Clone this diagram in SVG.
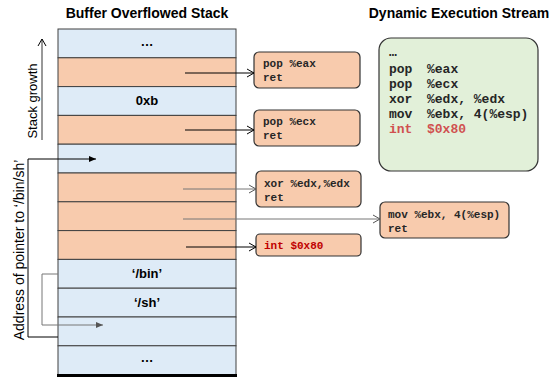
<svg xmlns="http://www.w3.org/2000/svg" width="549" height="381" viewBox="0 0 549 381">
<defs>
<style>
.title{font-family:"Liberation Sans",Arial,sans-serif;font-weight:bold;font-size:14px;fill:#000;text-anchor:middle}
.side{font-family:"Liberation Sans",Arial,sans-serif;font-size:13px;fill:#000;text-anchor:middle}
.cell{font-family:"Liberation Sans",Arial,sans-serif;font-weight:bold;font-size:13px;fill:#000;text-anchor:middle}
.blue{fill:#DEEBF7;stroke:#404040;stroke-width:1}
.orange{fill:#F8CBAD;stroke:#404040;stroke-width:1}
.gadget{fill:#F8CBAD;stroke:#333;stroke-width:1.2}
.code{font-family:"Liberation Mono","Courier New",monospace;font-weight:bold;font-size:11px;fill:#262626}
.code2{font-family:"Liberation Mono","Courier New",monospace;font-weight:bold;font-size:13px;fill:#262626}
.red{fill:#C00000}
.lred{fill:#D05050}
.conn{fill:none;stroke:#000;stroke-width:1}
.gconn{fill:none;stroke:#777;stroke-width:1}
</style>
<marker id="open" markerUnits="userSpaceOnUse" markerWidth="10" markerHeight="10" refX="8" refY="5" orient="auto">
<path d="M1,1 L8,5 L1,9" fill="none" stroke="#000" stroke-width="1"/>
</marker>
<marker id="openg" markerUnits="userSpaceOnUse" markerWidth="10" markerHeight="10" refX="8" refY="5" orient="auto">
<path d="M1,1 L8,5 L1,9" fill="none" stroke="#555" stroke-width="1"/>
</marker>
<marker id="fill" markerUnits="userSpaceOnUse" markerWidth="8" markerHeight="8" refX="7" refY="4" orient="auto">
<path d="M0,1 L7,4 L0,7 Z" fill="#000"/>
</marker>
<marker id="fillg" markerUnits="userSpaceOnUse" markerWidth="8" markerHeight="8" refX="7" refY="4" orient="auto">
<path d="M0,1 L7,4 L0,7 Z" fill="#555"/>
</marker>
</defs>
<rect width="549" height="381" fill="#fff"/>

<text class="title" x="147" y="17.5">Buffer Overflowed Stack</text>
<text class="title" x="459" y="17.5">Dynamic Execution Stream</text>

<g id="stack">
<rect class="blue" x="58" y="29" width="178" height="28.8"/>
<rect class="orange" x="58" y="57.8" width="178" height="28.8"/>
<rect class="blue" x="58" y="86.6" width="178" height="28.8"/>
<rect class="orange" x="58" y="115.4" width="178" height="28.8"/>
<rect class="blue" x="58" y="144.2" width="178" height="28.8"/>
<rect class="orange" x="58" y="173" width="178" height="28.8"/>
<rect class="orange" x="58" y="201.8" width="178" height="28.8"/>
<rect class="orange" x="58" y="230.6" width="178" height="28.8"/>
<rect class="blue" x="58" y="259.4" width="178" height="28.8"/>
<rect class="blue" x="58" y="288.2" width="178" height="28.8"/>
<rect class="blue" x="58" y="317" width="178" height="28.8"/>
<rect class="blue" x="58" y="345.8" width="178" height="28.8"/>
<line x1="57" y1="375.5" x2="237" y2="375.5" stroke="#000" stroke-width="3"/>
<text class="cell" x="147" y="45.5">…</text>
<text class="cell" x="147" y="105">0xb</text>
<text class="cell" x="147" y="278">‘/bin’</text>
<text class="cell" x="147" y="306.8">‘/sh’</text>
<text class="cell" x="147" y="362">…</text>
</g>

<g id="stack-growth">
<text class="side" transform="translate(37,101) rotate(-90)">Stack growth</text>
</g>
<g id="address-label">
<text class="side" style="font-size:14px" transform="translate(24,250) rotate(-90)">Address of pointer to ‘/bin/sh’</text>
</g>

<g id="gadget-pop-eax">
<rect class="gadget" x="254" y="52" width="106" height="36" rx="5"/>
<text class="code" x="263" y="67">pop %eax</text>
<text class="code" x="263" y="81">ret</text>
</g>
<g id="gadget-pop-ecx">
<rect class="gadget" x="254" y="110" width="106" height="36" rx="5"/>
<text class="code" x="263" y="125">pop %ecx</text>
<text class="code" x="263" y="139">ret</text>
</g>
<g id="gadget-xor">
<rect class="gadget" x="256" y="171" width="105" height="36" rx="5"/>
<text class="code" x="264" y="187">xor %edx,%edx</text>
<text class="code" x="264" y="201">ret</text>
</g>
<g id="gadget-mov">
<rect class="gadget" x="380" y="202" width="129" height="36" rx="5"/>
<text class="code" x="388" y="218">mov %ebx, 4(%esp)</text>
<text class="code" x="388" y="232">ret</text>
</g>
<g id="gadget-int">
<rect class="gadget" x="256" y="234" width="105" height="22" rx="4"/>
<text class="code red" x="264" y="249">int $0x80</text>
</g>

<g id="execution-stream">
<rect x="379" y="38" width="159" height="133" rx="12" fill="#E2F0D9" stroke="#333" stroke-width="1.2"/>
<text class="code2" x="389" y="56">…</text>
<text class="code2" x="389" y="72.5">pop<tspan x="427">%eax</tspan></text>
<text class="code2" x="389" y="87.5">pop<tspan x="427">%ecx</tspan></text>
<text class="code2" x="389" y="102.5">xor<tspan x="427">%edx, %edx</tspan></text>
<text class="code2" x="389" y="117.5">mov<tspan x="427">%ebx, 4(%esp)</tspan></text>
<text class="code2 lred" x="389" y="132.5">int<tspan x="427">$0x80</tspan></text>
</g>

<g id="connectors">
<line class="conn" x1="42" y1="140" x2="42" y2="39" marker-end="url(#open)" style="stroke:#333"/>
<line class="conn" x1="185" y1="73" x2="254" y2="73" marker-end="url(#open)"/>
<line class="conn" x1="185" y1="130" x2="254" y2="130" marker-end="url(#open)"/>
<line class="gconn" x1="183" y1="189" x2="256" y2="189" marker-end="url(#openg)"/>
<line class="gconn" x1="183" y1="219" x2="380" y2="219" marker-end="url(#openg)"/>
<line class="conn" x1="186" y1="247" x2="256" y2="247" marker-end="url(#open)"/>
<path class="conn" d="M58,337 H28 V159 H96" marker-end="url(#fill)"/>
<path class="gconn" d="M58,274 H42 V325 H103" marker-end="url(#fillg)"/>
</g>
</svg>
